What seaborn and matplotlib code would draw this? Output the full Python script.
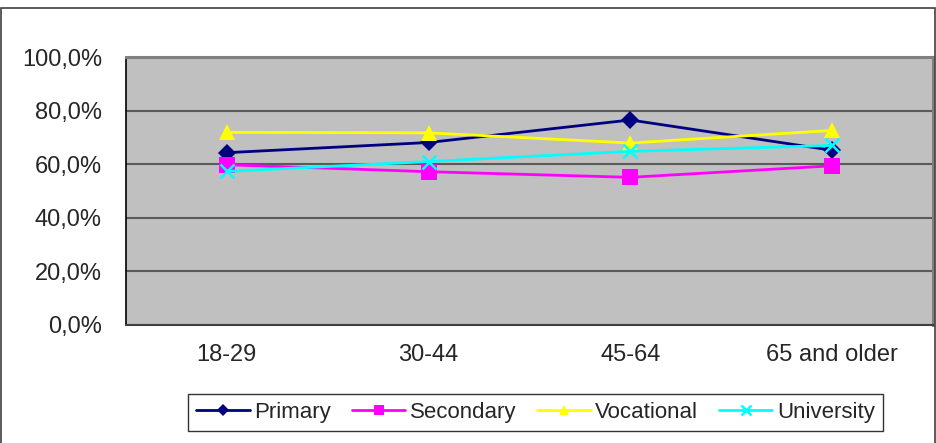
import matplotlib
matplotlib.use("Agg")
import matplotlib.pyplot as plt
from matplotlib.patches import Rectangle
from matplotlib.ticker import FuncFormatter, FixedLocator
import seaborn as sns
import pandas as pd

age_groups = ["18-29", "30-44", "45-64", "65 and older"]
education = ["Primary", "Secondary", "Vocational", "University"]
primary = [64.3, 68.1, 76.5, 65.2]
secondary = [59.8, 57.2, 55.1, 59.4]
vocational = [71.9, 71.7, 67.9, 72.6]
university = [57.3, 61.0, 64.8, 67.0]

colors = {"Primary": "#000080", "Secondary": "#FF00FF",
          "Vocational": "#FFFF00", "University": "#00FFFF"}
markers = {"Primary": "D", "Secondary": "s", "Vocational": "^", "University": "x"}
msizes = {"Primary": 9.5, "Secondary": 11, "Vocational": 11, "University": 10}

rows = []
for name, vals in zip(education, [primary, secondary, vocational, university]):
    for g, v in zip(age_groups, vals):
        rows.append({"Age": g, "Education": name, "Share": v})
df = pd.DataFrame(rows)

sns.set_style("white")
plt.rcParams["font.family"] = ["Liberation Sans", "DejaVu Sans"]

fig = plt.figure(figsize=(9.37, 4.43), dpi=100)
ax = fig.add_axes([126 / 937, (443 - 325) / 443, (933 - 126) / 937, (325 - 57) / 443])
ax.set_facecolor("#C0C0C0")

ax.yaxis.grid(True, color="#5A5A5A", linewidth=1.5)
ax.set_axisbelow(True)

for name in education:
    sub = df[df["Education"] == name]
    is_x = name == "University"
    sns.lineplot(data=sub, x="Age", y="Share", ax=ax, color=colors[name],
                 marker=markers[name], markersize=msizes[name],
                 markeredgecolor=colors[name],
                 markeredgewidth=1.8 if is_x else 0,
                 linewidth=2.0, label=name, sort=False)

ax.set_xlim(-0.5, 3.5)
ax.set_ylim(0, 100)
ax.set_yticks([0, 20, 40, 60, 80, 100])
ax.yaxis.set_major_formatter(FuncFormatter(lambda v, p: f"{v:.1f}%".replace(".", ",")))
ax.set_xticks(range(len(age_groups)))
ax.set_xticklabels(age_groups)
ax.xaxis.set_minor_locator(FixedLocator([0.5, 1.5, 2.5]))
ax.tick_params(axis="x", which="major", length=0, pad=14, labelsize=17)
ax.tick_params(axis="x", which="minor", length=5, width=1, color="#404040", direction="out")
ax.tick_params(axis="y", length=5.8, width=1, color="black", direction="out", pad=11.5, labelsize=17)
ax.set_xlabel("")
ax.set_ylabel("")

for side in ["top", "right"]:
    ax.spines[side].set_color("#808080")
    ax.spines[side].set_linewidth(2.2)
ax.spines["left"].set_color("black")
ax.spines["left"].set_linewidth(1.2)
ax.spines["bottom"].set_color("#404040")
ax.spines["bottom"].set_linewidth(1.5)

if ax.get_legend():
    ax.get_legend().remove()
handles, labels = ax.get_legend_handles_labels()
leg = fig.legend(handles, labels, loc="center", ncol=4,
                 bbox_to_anchor=(535.5 / 937, 1 - 412.5 / 443),
                 frameon=True, fancybox=False, fontsize=16,
                 handlelength=2.4, handletextpad=0.2, columnspacing=0.95,
                 borderpad=0.38, borderaxespad=0, markerscale=0.65)
leg.get_frame().set_edgecolor("black")
leg.get_frame().set_linewidth(1.0)

fig.add_artist(Rectangle((1.5 / 937, -0.05), (935 - 1.5) / 937, 1.05 - 8 / 443,
                         transform=fig.transFigure, fill=False,
                         edgecolor="#404040", linewidth=1.2))

fig.savefig("out.png", dpi=100)
